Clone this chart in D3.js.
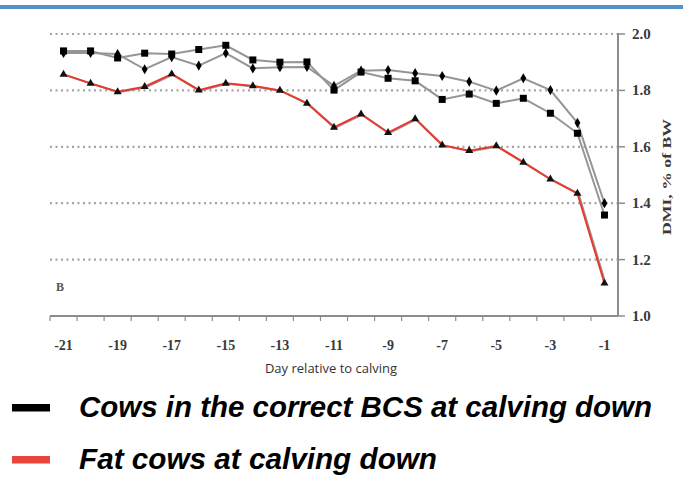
<!DOCTYPE html>
<html>
<head>
<meta charset="utf-8">
<script src="https://cdn.jsdelivr.net/npm/d3@7"></script>
<style>
  html, body { margin: 0; padding: 0; background: #fff; }
  svg { display: block; }
</style>
</head>
<body>
<svg id="chart" width="683" height="477"></svg>
<script>
// Days before calving (category axis)
const days = [-21,-20,-19,-18,-17,-16,-15,-14,-13,-12,-11,-10,-9,-8,-7,-6,-5,-4,-3,-2,-1];

// Dry matter intake, % of body weight
const correctSquare = [1.940,1.940,1.915,1.932,1.929,1.945,1.960,1.908,1.900,1.901,1.801,1.865,1.843,1.834,1.768,1.787,1.754,1.772,1.719,1.648,1.358];
const correctDiamond = [1.933,1.933,1.929,1.875,1.918,1.888,1.932,1.878,1.882,1.883,1.816,1.870,1.872,1.861,1.851,1.831,1.799,1.843,1.801,1.685,1.400];
const fatCows = [1.857,1.825,1.795,1.813,1.858,1.801,1.825,1.816,1.800,1.754,1.669,1.716,1.650,1.699,1.606,1.586,1.603,1.545,1.485,1.435,1.116];

const yTicks = [1.0,1.2,1.4,1.6,1.8,2.0];
const xTickLabels = [-21,-19,-17,-15,-13,-11,-9,-7,-5,-3,-1];
const legendLabels = ["Cows in the correct BCS at calving down", "Fat cows at calving down"];
const legendColors = ["#000000", "#e8453c"];

const svg = d3.select("#chart");

// Blue rule across the top
svg.append("rect").attr("x", 0).attr("y", 5).attr("width", 683).attr("height", 4).attr("fill", "#5592cc");

const x = d3.scaleBand().domain(days).range([50, 618]).padding(0);
const y = d3.scaleLinear().domain([1.0, 2.0]).range([316, 34]);
const cx = d => x(d) + x.bandwidth() / 2;

// Dotted gridlines
svg.append("g").selectAll("line").data(yTicks.filter(v => v > 1.0)).join("line")
  .attr("x1", 50).attr("x2", 617)
  .attr("y1", d => y(d)).attr("y2", d => y(d))
  .attr("stroke", "#a4a4a4").attr("stroke-width", 2.2)
  .attr("stroke-dasharray", "2,3.5");

// X axis line with ticks at category boundaries
const axisColor = "#8c8c8c";
svg.append("line").attr("x1", 50).attr("x2", 618).attr("y1", y(1.0)).attr("y2", y(1.0))
  .attr("stroke", axisColor).attr("stroke-width", 2);
const bounds = days.map(d => x(d));
svg.append("g").selectAll("line").data(bounds).join("line")
  .attr("x1", d => d).attr("x2", d => d)
  .attr("y1", y(1.0)).attr("y2", y(1.0) + 5)
  .attr("stroke", axisColor).attr("stroke-width", 1.2);

svg.append("g").selectAll("text").data(xTickLabels).join("text")
  .attr("x", d => cx(d)).attr("y", 350)
  .attr("text-anchor", "middle")
  .attr("font-family", "Liberation Serif, serif").attr("font-weight", "bold")
  .attr("font-size", 14).attr("fill", "#3a3a3a")
  .text(d => d);

svg.append("text").attr("x", 331).attr("y", 373)
  .attr("text-anchor", "middle")
  .attr("font-family", "Open Sans, sans-serif").attr("font-size", 13).attr("fill", "#333")
  .text("Day relative to calving");

// Y axis on the right
svg.append("line").attr("x1", 618).attr("x2", 618).attr("y1", y(2.0) - 1).attr("y2", y(1.0))
  .attr("stroke", axisColor).attr("stroke-width", 2);
svg.append("g").selectAll("line").data(yTicks).join("line")
  .attr("x1", 618).attr("x2", 625)
  .attr("y1", d => y(d)).attr("y2", d => y(d))
  .attr("stroke", axisColor).attr("stroke-width", 1.5);
svg.append("g").selectAll("text").data(yTicks).join("text")
  .attr("x", 632).attr("y", d => y(d) + 5)
  .attr("font-family", "Liberation Serif, serif").attr("font-weight", "bold")
  .attr("font-size", 15).attr("fill", "#3a3a3a")
  .text(d => d.toFixed(1));

svg.append("text")
  .attr("transform", "translate(671,177) rotate(-90)")
  .attr("text-anchor", "middle")
  .attr("font-family", "Liberation Serif, serif").attr("font-weight", "bold")
  .attr("font-size", 13).attr("fill", "#3a3a3a")
  .attr("textLength", 116).attr("lengthAdjust", "spacingAndGlyphs")
  .text("DMI, % of BW");

// Panel letter
svg.append("text").attr("x", 56).attr("y", 291)
  .attr("font-family", "Liberation Serif, serif").attr("font-weight", "bold")
  .attr("font-size", 12).attr("fill", "#555")
  .text("B");

const line = vals => d3.line().x((v, i) => cx(days[i])).y(v => y(v))(vals);

// Correct-BCS cows: two grey traces
[correctSquare, correctDiamond].forEach(vals => {
  svg.append("path").attr("d", line(vals))
    .attr("fill", "none").attr("stroke", "#959595").attr("stroke-width", 2);
});

// Fat cows: grey trace under red
svg.append("path").attr("d", line(fatCows))
  .attr("transform", "translate(1.2,0.5)")
  .attr("fill", "none").attr("stroke", "#9a9a9a").attr("stroke-width", 2);
svg.append("path").attr("d", line(fatCows))
  .attr("fill", "none").attr("stroke", "#e8392c").attr("stroke-width", 2);

// Markers
svg.append("g").selectAll("rect").data(correctSquare).join("rect")
  .attr("x", (v, i) => cx(days[i]) - 3.5).attr("y", v => y(v) - 3.5)
  .attr("width", 7).attr("height", 7).attr("fill", "#000");

const diamond = d3.symbol().type(d3.symbolDiamond).size(30);
svg.append("g").selectAll("path").data(correctDiamond).join("path")
  .attr("transform", (v, i) => `translate(${cx(days[i])},${y(v)})`)
  .attr("d", diamond).attr("fill", "#000");

const tri = d3.symbol().type(d3.symbolTriangle).size(28);
svg.append("g").selectAll("path").data(fatCows).join("path")
  .attr("transform", (v, i) => `translate(${cx(days[i])},${y(v)})`)
  .attr("d", tri).attr("fill", "#111");

// Legend
const legY = [408, 460];
legendLabels.forEach((lab, i) => {
  svg.append("rect").attr("x", 12).attr("y", legY[i] - 4).attr("width", 38).attr("height", 7.5)
    .attr("fill", legendColors[i]);
  const t = svg.append("text").attr("x", 79).attr("y", legY[i] + 9)
    .attr("font-family", "Liberation Sans, Arial, sans-serif")
    .attr("font-weight", "bold").attr("font-style", "italic")
    .attr("font-size", 29).attr("fill", "#000")
    .text(lab);
  t.attr("textLength", i === 0 ? 573 : 358).attr("lengthAdjust", "spacingAndGlyphs");
});
</script>
</body>
</html>
